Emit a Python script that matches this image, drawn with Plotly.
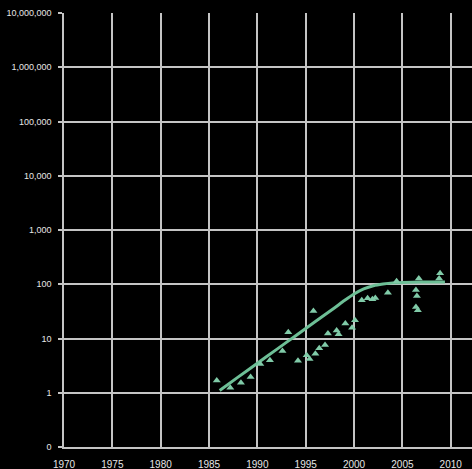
import plotly.graph_objects as go

# Observed points (year, value)
point_years = [1985.8, 1987.2, 1988.3, 1989.3, 1990.3, 1991.3, 1992.6, 1993.2,
               1994.2, 1995.1, 1995.4, 1995.8, 1996.0, 1996.4, 1997.0, 1997.3,
               1998.2, 1998.4, 1999.1, 1999.8, 2000.1, 2000.8, 2001.4, 2001.9,
               2002.2, 2003.5, 2004.4, 2006.4, 2006.5, 2006.4, 2006.6, 2006.7,
               2008.8, 2008.9]
point_values = [1.69, 1.24, 1.53, 1.95, 3.4, 3.96, 5.9, 13.0,
                3.9, 4.9, 4.2, 32, 5.25, 6.6, 7.6, 12.3,
                14.1, 12.0, 19, 15.8, 21.7, 50.7, 55, 53,
                56, 70, 113, 78.5, 61, 38, 33, 127,
                127, 159]

# Trend curve
trend_years = [1986.1, 1988, 1990, 1992, 1994, 1996, 1998, 1999, 2000,
               2001, 2002, 2003, 2004, 2005, 2007, 2009.4]
trend_values = [1.1, 1.94, 3.5, 6.3, 11.4, 20.5, 37, 50, 66,
                82, 94, 101, 106, 108, 110, 110]

year_ticks = [1970, 1975, 1980, 1985, 1990, 1995, 2000, 2005, 2010]
value_ticks = [0.1, 1, 10, 100, 1e3, 1e4, 1e5, 1e6, 1e7]
value_tick_text = ["0", "1", "10", "100", "1,000", "10,000", "100,000",
                   "1,000,000", "10,000,000"]

fig = go.Figure()
fig.add_trace(go.Scatter(
    x=trend_years, y=trend_values, mode="lines",
    line=dict(color="#6dbf96", width=3, shape="spline", smoothing=0.6),
    hoverinfo="skip", showlegend=False))
fig.add_trace(go.Scatter(
    x=point_years, y=point_values, mode="markers",
    marker=dict(symbol="triangle-up", size=7, color="#80cba8"),
    showlegend=False))

grid = "#c4c4c4"
fig.update_layout(
    width=472, height=469,
    margin=dict(l=64, r=0, t=13, b=22),
    paper_bgcolor="black", plot_bgcolor="black",
    font=dict(family="Liberation Sans, Arial, sans-serif", size=10, color="#e6e6e6"),
    xaxis=dict(range=[1970, 2012.2], tickvals=year_ticks,
               tickfont=dict(size=10),
               showgrid=True, gridcolor=grid, gridwidth=1.5,
               zeroline=False, showline=True, linecolor=grid, linewidth=1.5,
               ticks="", ticklabelstandoff=7),
    yaxis=dict(type="log", range=[-1, 7], tickvals=value_ticks,
               ticktext=value_tick_text, tickfont=dict(size=9),
               showgrid=True, gridcolor=grid, gridwidth=1.5,
               zeroline=False, showline=True, linecolor=grid, linewidth=1.5,
               ticks="outside", ticklen=4, tickcolor=grid, tickwidth=1.5,
               ticklabelstandoff=5),
)

fig.write_html("out.html")
